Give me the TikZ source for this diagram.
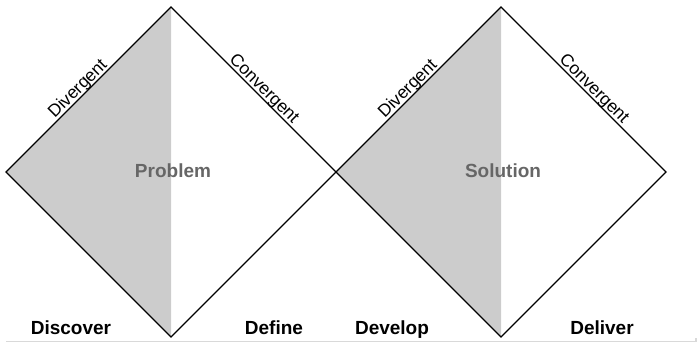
\documentclass[tikz,border=0pt]{standalone}
\usepackage{fontspec}
\setmainfont{Liberation Sans}
\definecolor{shade}{HTML}{CCCCCC}
\definecolor{labelgray}{HTML}{666666}
\definecolor{rulegray}{HTML}{D9D9D9}
\begin{document}
\begin{tikzpicture}[x=1pt,y=-1pt,
  edge/.style={draw=black,line width=1.3pt,line join=miter},
  halffill/.style={fill=shade,draw=none},
  sidelabel/.style={font=\fontsize{17.5}{20}\selectfont,anchor=base,inner sep=0pt},
  phase/.style={font=\bfseries\fontsize{19}{22}\selectfont,anchor=base,inner sep=0pt},
  core/.style={font=\bfseries\fontsize{19}{22}\selectfont,text=labelgray,inner sep=0pt}]
\useasboundingbox (0,0) rectangle (697,344);

% first diamond
\coordinate (aL) at (6,172);
\coordinate (aT) at (171,7);
\coordinate (aR) at (336,172);
\coordinate (aB) at (171,337);
% second diamond
\coordinate (bL) at (336,172);
\coordinate (bT) at (501,7);
\coordinate (bR) at (666,172);
\coordinate (bB) at (501,337);

% shaded divergent halves
\path[halffill] (aL) -- (aT) -- (aB) -- cycle;
\path[halffill] (bL) -- (bT) -- (bB) -- cycle;

% outlines
\draw[edge] (aL) -- (aT) -- (aR) -- (aB) -- cycle;
\draw[edge] (bL) -- (bT) -- (bR) -- (bB) -- cycle;

% edge labels
\path (aL) -- node[sidelabel,pos=0.47,sloped,yshift=3pt] (adiv) {Divergent} (aT);
\path (aT) -- node[sidelabel,pos=0.53,sloped,yshift=3pt] (aconv) {Convergent} (aR);
\path (bL) -- node[sidelabel,pos=0.47,sloped,yshift=3pt] (bdiv) {Divergent} (bT);
\path (bT) -- node[sidelabel,pos=0.53,sloped,yshift=3pt] (bconv) {Convergent} (bR);

% centre labels
\node[core] (prob) at (173,171) {Problem};
\node[core] (sol) at (503,171) {Solution};

% phase labels
\node[phase] (disc) at (71,335) {Discover};
\node[phase] (defi) at (274,335) {Define};
\node[phase] (devl) at (392,335) {Develop};
\node[phase] (deli) at (602,335) {Deliver};

% base rule
\coordinate (r0) at (6,341.5);
\coordinate (r1) at (696,341.5);
\coordinate (r2) at (696,338);
\draw[rulegray,line width=1.6pt] (r0) -- (r1) -- (r2);
\end{tikzpicture}
\end{document}
